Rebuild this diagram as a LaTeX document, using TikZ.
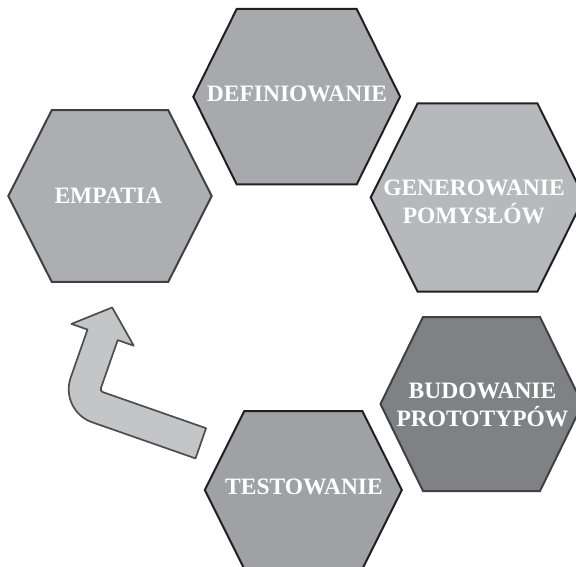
\documentclass[tikz,border=0pt]{standalone}
\usepackage{fontspec}
\setmainfont{Liberation Serif}
\definecolor{empfill}{HTML}{ADAEB1}
\definecolor{deffill}{HTML}{A7A9AC}
\definecolor{genfill}{HTML}{B7B8BB}
\definecolor{budfill}{HTML}{808184}
\definecolor{tesfill}{HTML}{A0A1A4}
\definecolor{arrowfill}{HTML}{C4C5C7}
\definecolor{edgedark}{HTML}{231F20}
\definecolor{edgegray}{HTML}{414042}
\definecolor{arrowedge}{HTML}{4D4D4F}
% centre x, centre y, half width, half height, half top edge, style
\newcommand{\hexcell}[6]{%
  \draw[cell, #6, shift={(#1,#2)}] (-#3,0) -- (-#5,-#4) -- (#5,-#4) -- (#3,0) -- (#5,#4) -- (-#5,#4) -- cycle;}

\begin{document}
\begin{tikzpicture}[x=1pt, y=-1pt,
    cell/.style={line width=2pt},
    hextext/.style={text=white, font=\bfseries\fontsize{23.5}{28}\selectfont, align=center, inner sep=0pt},
    loopback/.style={fill=arrowfill, draw=arrowedge, line width=1.7pt, line join=round}]
  \useasboundingbox (0,0) rectangle (576,567);
  \clip (0,0) rectangle (576,567);

  \hexcell{110}{196}{101.7}{85.8}{58.3}{fill=empfill, draw=edgegray}
  \hexcell{296.7}{96.7}{103.4}{87.7}{60}{fill=deffill, draw=edgedark}
  \hexcell{477.5}{197.5}{106.8}{94}{60}{fill=genfill, draw=edgedark}
  \hexcell{481.5}{404}{101}{87}{58.5}{fill=budfill, draw=edgegray}
  \hexcell{303.3}{490}{98.5}{79}{59}{fill=tesfill, draw=edgedark}

  \node[hextext] (empatia) at (108.3,196) {EMPATIA};
  \node[hextext] (definiowanie) at (297,94) {DEFINIOWANIE};
  \node[hextext] (generowanie) at (474,202) {GENEROWANIE\\POMYSŁÓW};
  \node[hextext] (budowanie) at (482.5,405) {BUDOWANIE\\PROTOTYPÓW};
  \node[hextext] (testowanie) at (304,486.5) {TESTOWANIE};

  % bent arrow back to the start
  \begin{scope}[shift={(79.5,400.9)}, x={(0.944pt,-0.33pt)}, y={(0.33pt,0.944pt)}]
    \draw[loopback] (128.5,16) -- (19,16) arc[start angle=270, end angle=180, radius=3]
      -- (16,70) -- (33,70) -- (0,99) -- (-33,70) -- (-16,70) -- (-16,19)
      arc[start angle=180, end angle=270, radius=35] -- (128.5,-16) -- cycle;
  \end{scope}
\end{tikzpicture}
\end{document}
